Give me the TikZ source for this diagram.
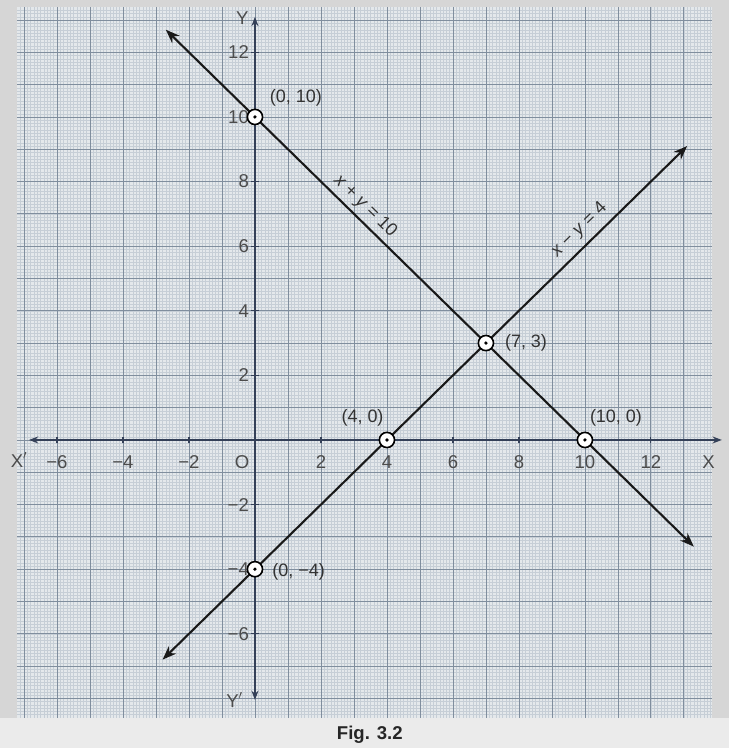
\documentclass[tikz,border=0pt]{standalone}
\usepackage{fontspec}
\setmainfont{Liberation Sans}
\usetikzlibrary{positioning, arrows.meta}

\definecolor{photo}{RGB}{214,214,214}
\definecolor{paper}{RGB}{228,232,235}
\definecolor{gridminor}{RGB}{198,206,214}
\definecolor{gridmajor}{RGB}{128,142,158}
\definecolor{axisblue}{RGB}{52,64,88}

\begin{document}
\begin{tikzpicture}[
        x=1cm, y=0.979cm,
        pt/.style={
            circle, draw=black, line width=1.4pt, fill=white,
            minimum size=0.46cm, inner sep=0pt
        },
        lbl/.style={
            font=\fontsize{15.5}{17}\selectfont, text=black!80
        },
        ticklbl/.style={
            font=\fontsize{16}{18}\selectfont, text=black!70
        },
        axis/.style={draw=axisblue, line width=1.3pt, {Stealth[length=8pt,width=6pt]}-{Stealth[length=8pt,width=6pt]}},
        graphline/.style={draw=black!90, line width=1.8pt, {Stealth[length=12pt,width=9pt]}-{Stealth[length=12pt,width=9pt]}}
    ]

    % Photo border
    \fill[photo] (-7.727,-9.536) rectangle (14.364,13.62);
    \fill[black!8] (-7.727,-9.536) rectangle (14.364,-8.6);
    \useasboundingbox (-7.727,-9.536) rectangle (14.364,13.62);

    % Graph paper
    \fill[paper] (-7.2,-8.6) rectangle (13.85,13.4);
    \draw[gridminor, line width=0.3pt] (-7.2,-8.6) grid[step=0.1] (13.85,13.4);
    \draw[gridmajor, line width=0.7pt] (-7.2,-8.6) grid[step=1] (13.85,13.4);

    % Axes
    \coordinate (xl) at (-6.85,0);
    \coordinate (xr) at (14.15,0);
    \coordinate (yb) at (0,-8.05);
    \coordinate (yt) at (0,13.1);
    \draw[axis] (xl) -- (xr);
    \draw[axis] (yb) -- (yt);

    \node[ticklbl] (xlbl) at (-7.15,-0.62) {X$'$};
    \node[ticklbl] (xrlbl) at (13.75,-0.68) {X};
    \node[ticklbl] (ytlbl) at (-0.38,13.07) {Y};
    \node[ticklbl] (yblbl) at (-0.62,-8.05) {Y$'$};
    \node[ticklbl] (orig) at (-0.39,-0.68) {O};

    % Ticks
    \foreach \x in {-6,-4,-2,2,4,...,12} {
        \draw[axisblue, line width=1pt] (\x,-0.1) -- (\x,0.1);
        \node[ticklbl] at (\x,-0.68) {\ifnum\x<0 −\the\numexpr-\x\relax\else\x\fi};
    }
    \foreach \y in {-6,-4,-2,2,4,...,12} {
        \draw[axisblue, line width=1pt] (-0.12,\y) -- (0.12,\y);
        \node[ticklbl, anchor=east] at (-0.06,\y) {\ifnum\y<0 −\the\numexpr-\y\relax\else\y\fi};
    }

    % Lines
    \coordinate (aone) at (-2.7,12.7);
    \coordinate (bone) at (13.3,-3.3);
    \coordinate (atwo) at (-2.8,-6.8);
    \coordinate (btwo) at (13.1,9.1);
    \draw[graphline] (aone) -- (bone)
        node[lbl, pos=0.36, sloped, above=0pt] {\textit{x} + \textit{y} = 10};
    \draw[graphline] (atwo) -- (btwo)
        node[lbl, pos=0.815, sloped, above=2pt] {\textit{x} − \textit{y} = 4};

    % Points
    \node[pt] (p010) at (0,10) {};
    \node[pt] (p73) at (7,3) {};
    \node[pt] (p40) at (4,0) {};
    \node[pt] (p100) at (10,0) {};
    \node[pt] (p0m4) at (0,-4) {};
    \foreach \p in {p010,p73,p40,p100,p0m4}
        \fill[black] (\p) circle (1.6pt);

    % Point labels
    \node[lbl, above right=0.02cm and 0.15cm of p010] {(0, 10)};
    \node[lbl, right=0.2cm of p73] {(7, 3)};
    \node[lbl, above left=0.12cm and -0.2cm of p40] {(4, 0)};
    \node[lbl, above right=0.12cm and -0.15cm of p100] {(10, 0)};
    \node[lbl, right=0.15cm of p0m4, yshift=-0.08cm] {(0, −4)};

    % Caption
    \node[font=\fontsize{16}{18}\selectfont\bfseries, text=black!85] (cap) at (3.48,-9.13) {Fig. 3.2};

\end{tikzpicture}
\end{document}
